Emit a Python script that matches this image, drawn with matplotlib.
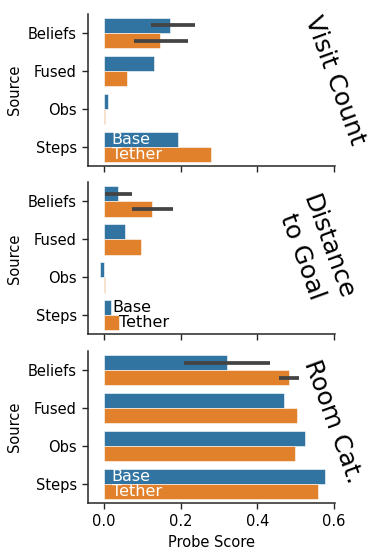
import numpy as np
import matplotlib; matplotlib.use("Agg")
import matplotlib.pyplot as plt

sources = ["Beliefs", "Fused", "Obs", "Steps"]
panels = ["Visit Count", "Distance\nto Goal", "Room Cat."]

base = [
    [0.171, 0.130, 0.010, 0.193],
    [0.036, 0.054, -0.010, 0.018],
    [0.320, 0.470, 0.525, 0.576],
]
tether = [
    [0.147, 0.060, 0.003, 0.278],
    [0.125, 0.097, 0.002, 0.038],
    [0.481, 0.504, 0.498, 0.557],
]
# confidence intervals for Beliefs row (base, tether)
base_ci = [(0.122, 0.236), (0.003, 0.072), (0.208, 0.432)]
tether_ci = [(0.078, 0.219), (0.074, 0.180), (0.457, 0.509)]

# where the legend-like "Base"/"Tether" labels start in each panel
label_x = [(0.02, 0.02), (0.021, 0.040), (0.02, 0.02)]
label_color = ["white", "black", "white"]
title_pos = [(1.0, 0.56), (0.92, 0.54), (0.99, 0.54)]

blue, orange = "#3274a1", "#e1812c"

fig = plt.figure(figsize=(3.81, 5.58), dpi=100)
bottoms = [0.703, 0.401, 0.0985]
y = np.arange(len(sources))
for i in range(3):
    ax = fig.add_axes([0.231, bottoms[i], 0.648, 0.272])
    ax.barh(y - 0.2, base[i], height=0.4, color=blue, edgecolor="white", linewidth=0.4)
    ax.barh(y + 0.2, tether[i], height=0.4, color=orange, edgecolor="white", linewidth=0.4)
    ax.plot(base_ci[i], [-0.2, -0.2], color="#444444", lw=2.7, solid_capstyle="butt")
    ax.plot(tether_ci[i], [0.2, 0.2], color="#444444", lw=2.7, solid_capstyle="butt")
    ax.text(label_x[i][0], 2.8, "Base", color=label_color[i], fontsize=11.5, ha="left", va="center")
    ax.text(label_x[i][1], 3.2, "Tether", color=label_color[i], fontsize=11.5, ha="left", va="center")
    ax.text(*title_pos[i], panels[i], transform=ax.transAxes, rotation=-70, fontsize=18,
            ha="center", va="center")
    ax.set_ylim(3.5, -0.5)
    ax.set_xlim(-0.042, 0.602)
    ax.set_yticks(y)
    ax.set_yticklabels(sources, fontsize=10.5)
    ax.set_xticks([0.0, 0.2, 0.4, 0.6])
    ax.set_ylabel("Source", fontsize=10.5)
    ax.tick_params(length=4.5, width=1, color="#262626")
    for s in ["top", "right"]:
        ax.spines[s].set_visible(False)
    for s in ["left", "bottom"]:
        ax.spines[s].set_color("#262626")
        ax.spines[s].set_linewidth(1.1)
    if i < 2:
        ax.set_xticklabels([])
    else:
        ax.set_xticklabels(["0.0", "0.2", "0.4", "0.6"], fontsize=10.5)
        ax.set_xlabel("Probe Score", fontsize=10.5)

fig.savefig("out.png", dpi=100)
